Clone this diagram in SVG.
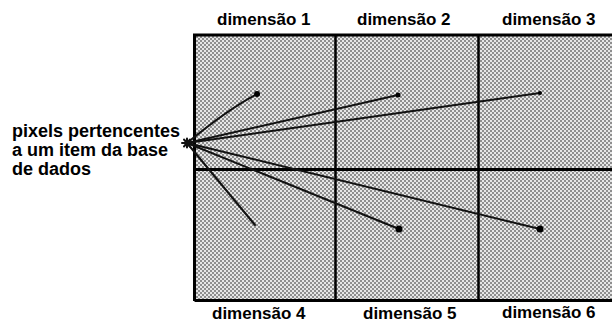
<svg xmlns="http://www.w3.org/2000/svg" width="612" height="323" viewBox="0 0 612 323">
  <defs>
    <!-- dithered gray fill for the dimension cells -->
    <pattern id="dither" width="4" height="4" patternUnits="userSpaceOnUse">
      <rect width="4" height="4" fill="#e6e6e6"/>
      <rect x="0" y="0" width="2" height="2" fill="#8e8e8e"/>
      <rect x="2" y="2" width="2" height="2" fill="#8e8e8e"/>
    </pattern>
    <style>
      .lbl { font-family: "Liberation Sans", Arial, sans-serif; font-weight: bold; font-size: 17px; fill: #000; }
      .big { font-size: 18px; }
      .grid { fill: none; stroke: #000; }
      .ray { fill: none; stroke: #111; stroke-width: 2; stroke-linecap: round; }
      .end { fill: #000; }
    </style>
  </defs>

  <rect width="612" height="323" fill="#ffffff"/>

  <!-- cells -->
  <g id="grid">
    <rect x="194" y="35" width="420" height="265" fill="url(#dither)"/>
    <path class="grid" stroke-width="3" d="M194.5 301 V35 H614 M194.5 300.5 H614"/>
    <path class="grid" stroke-width="3" d="M194 169.5 H614"/>
    <path class="grid" stroke-width="2.5" d="M335.5 35 V300 M478.5 35 V300"/>
  </g>

  <!-- dimension captions -->
  <g id="dim1"><text class="lbl" x="217" y="25">dimensão 1</text></g>
  <g id="dim2"><text class="lbl" x="357" y="25">dimensão 2</text></g>
  <g id="dim3"><text class="lbl" x="502" y="25">dimensão 3</text></g>
  <g id="dim4"><text class="lbl" x="212" y="319">dimensão 4</text></g>
  <g id="dim5"><text class="lbl" x="363" y="319">dimensão 5</text></g>
  <g id="dim6"><text class="lbl" x="502" y="318">dimensão 6</text></g>

  <!-- item label -->
  <g id="item">
    <text class="lbl big" x="12" y="137">pixels pertencentes</text>
    <text class="lbl big" x="12" y="156">a um item da base</text>
    <text class="lbl big" x="12" y="175">de dados</text>
  </g>

  <!-- rays from the item pixel to its position in each dimension -->
  <g id="connectors">
    <path class="ray" d="M187 143 Q228 109 257 94"/>
    <path class="ray" d="M187 143 L398 95"/>
    <path class="ray" d="M187 143 L540 93"/>
    <path class="ray" d="M187 143 L255 225"/>
    <path class="ray" d="M187 143 L399 229"/>
    <path class="ray" d="M187 143 L540 229"/>
    <path class="ray" stroke-width="1.6" d="M182 143 H192 M184 139.5 L190 146.5 M184 146.5 L190 139.5 M187 138.5 V147.5"/>
    <circle class="end" cx="257" cy="94" r="3"/>
    <circle class="end" cx="398" cy="95" r="2.5"/>
    <circle class="end" cx="540" cy="93" r="2"/>
    <circle class="end" cx="399" cy="229" r="3.5"/>
    <circle class="end" cx="540" cy="229" r="3.5"/>
  </g>
</svg>
